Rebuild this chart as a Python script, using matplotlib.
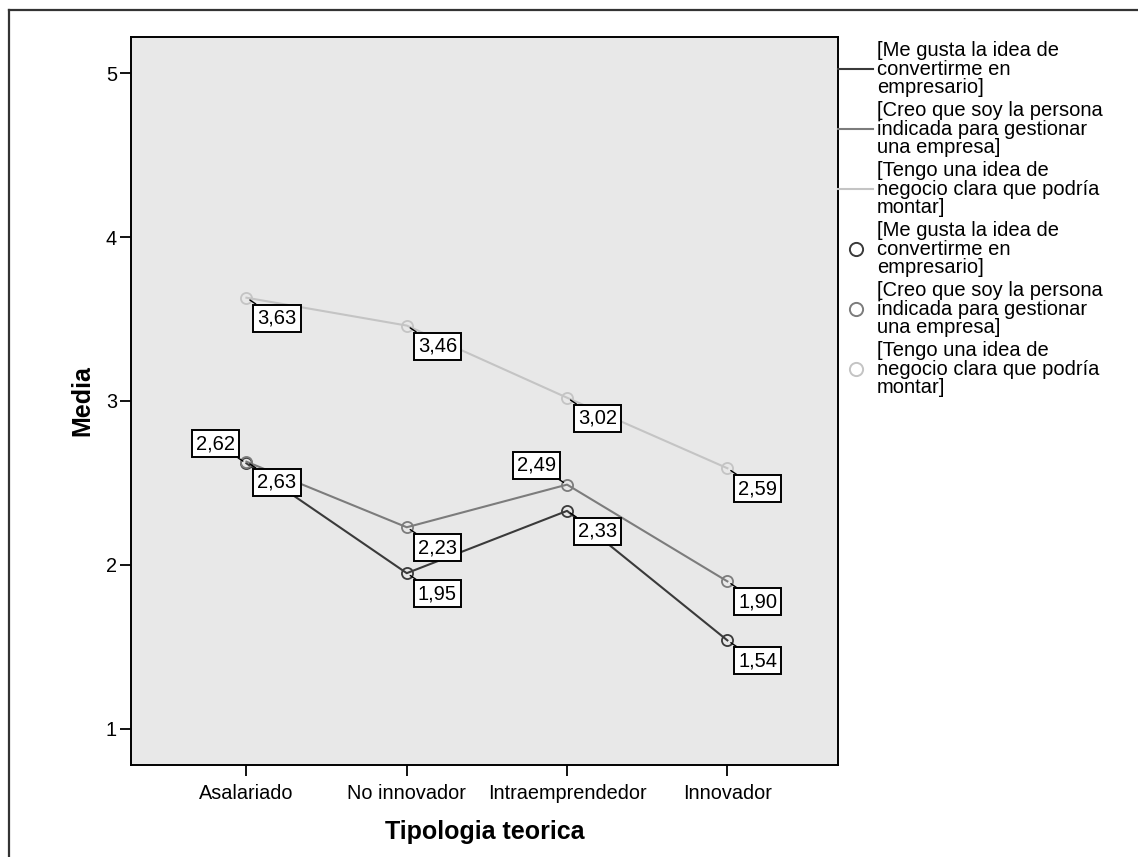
import matplotlib
matplotlib.use('Agg')
import matplotlib.pyplot as plt
from matplotlib.lines import Line2D

plt.rcParams['font.family'] = ['Liberation Sans', 'DejaVu Sans']

# ---------------- data ----------------
categories = ['Asalariado', 'No innovador', 'Intraemprendedor', 'Innovador']
series_names = [
    '[Me gusta la idea de\nconvertirme en\nempresario]',
    '[Creo que soy la persona\nindicada para gestionar\nuna empresa]',
    '[Tengo una idea de\nnegocio clara que podría\nmontar]',
]
me_gusta = [2.62, 1.95, 2.33, 1.54]
creo_que = [2.63, 2.23, 2.49, 1.90]
tengo_idea = [3.63, 3.46, 3.02, 2.59]
y_ticks = [1, 2, 3, 4, 5]
x_title = 'Tipologia teorica'
y_title = 'Media'

series_values = [me_gusta, creo_que, tengo_idea]
colors = ['#3a3a3a', '#7c7c7c', '#c4c4c4']
upper_left_labels = {(0, 0), (1, 2)}

W, H = 1138, 857
fig = plt.figure(figsize=(W / 100, H / 100), dpi=100)

# outer frame (top and left visible)
fig.add_artist(Line2D([9 / W, 9 / W], [0, 1 - 10 / H], transform=fig.transFigure,
                      color='#333333', lw=1.6))
fig.add_artist(Line2D([9 / W, 1], [1 - 10 / H, 1 - 10 / H], transform=fig.transFigure,
                      color='#333333', lw=1.6))

ax = fig.add_axes([131 / W, 1 - 765 / H, 707 / W, 728 / H])
ax.set_facecolor('#e8e8e8')
x = list(range(len(categories)))

for s, (vals, c) in enumerate(zip(series_values, colors)):
    ax.plot(x, vals, color=c, lw=1.5, zorder=2)
    ax.plot(x, vals, linestyle='none', marker='o', ms=8, mfc='none', mec=c, mew=1.3, zorder=3)
    for i, v in enumerate(vals):
        lab = f'{v:.2f}'.replace('.', ',')
        if (s, i) in upper_left_labels:
            off, ha, va = (-11, 10), 'right', 'bottom'
        else:
            off, ha, va = (11, -11), 'left', 'top'
        ax.annotate(lab, xy=(i, v), xytext=off, textcoords='offset pixels',
                    ha=ha, va=va, fontsize=14.5, zorder=5,
                    bbox=dict(boxstyle='square,pad=0.2', fc='white', ec='black', lw=1.4),
                    arrowprops=dict(arrowstyle='-', color='black', lw=1.0,
                                    shrinkA=0, shrinkB=3))

ax.set_xlim(-0.72, 3.69)
ax.set_ylim(0.78, 5.22)
ax.set_xticks(x)
ax.set_xticklabels(categories, fontsize=14.3)
ax.set_yticks(y_ticks)
ax.set_yticklabels([str(t) for t in y_ticks], fontsize=14.3)
ax.tick_params(axis='y', direction='out', length=8, width=1.3, pad=2)
ax.tick_params(axis='x', direction='out', length=8, width=1.3, pad=6)
for sp in ax.spines.values():
    sp.set_linewidth(1.4)
    sp.set_color('black')

ax.set_xlabel(x_title, fontsize=18, fontweight='bold')
ax.xaxis.set_label_coords(0.5, -0.075)
ax.set_ylabel(y_title, fontsize=18, fontweight='bold')
ax.yaxis.set_label_coords(-0.052, 0.5)

# legend (manual, to match layout)
for k in range(6):
    y_top = 41 + 60 * k
    s = k % 3
    c = colors[s]
    yc = 1 - (y_top + 28) / H
    if k < 3:
        fig.add_artist(Line2D([838 / W, 873 / W], [yc, yc], transform=fig.transFigure,
                              color=c, lw=1.5))
    else:
        fig.add_artist(Line2D([856 / W], [yc], transform=fig.transFigure, linestyle='none',
                              marker='o', ms=9.5, mfc='none', mec=c, mew=1.4))
    fig.text(877 / W, 1 - y_top / H, series_names[s], ha='left', va='top',
             fontsize=14.5, linespacing=0.98)

fig.savefig('out.png', dpi=100)
